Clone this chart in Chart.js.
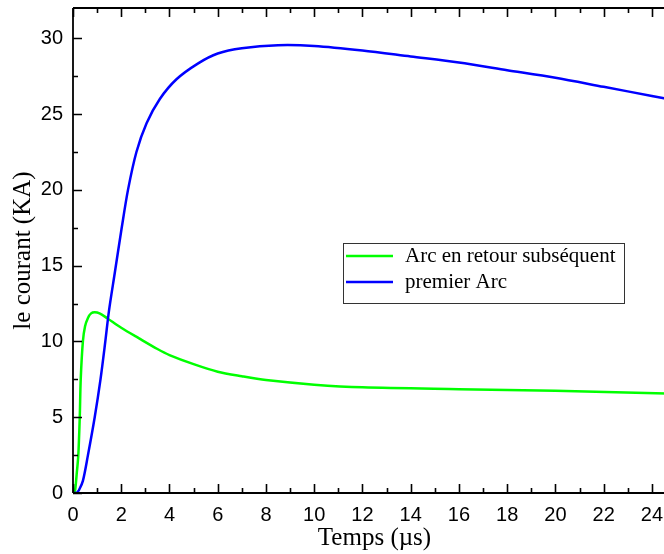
<!DOCTYPE html>
<html>
<head>
<meta charset="UTF-8">
<title>Courant de l'arc</title>
<script src="https://cdn.jsdelivr.net/npm/chart.js"></script>
<style>
	html, body { margin: 0; padding: 0; overflow: hidden; background: #fff; }
	#wrap { position: absolute; left: 0; top: 0; width: 680px; height: 554px; }
</style>
</head>
<body>
<div id="wrap">
	<canvas id="courbe" width="680" height="554"></canvas>
</div>
<script>
	// valeurs (temps en µs, courant en kA)
	const tempsSubsequent = [0, 0.07, 0.15, 0.22, 0.28, 0.32, 0.41, 0.5, 0.62, 0.75, 0.9, 1.1, 1.4, 2, 2.74, 3.5, 4, 5, 6, 7, 8, 10, 12, 16, 20, 25];
	const courantSubsequent = [0, 0, 1.2, 2.5, 5, 7.5, 10, 11.0, 11.55, 11.85, 11.92, 11.85, 11.55, 10.9, 10.2, 9.5, 9.1, 8.5, 8.0, 7.7, 7.45, 7.15, 6.97, 6.85, 6.75, 6.55];

	const tempsPremier = [0, 0.14, 0.25, 0.41, 0.62, 0.9, 1.14, 1.34, 1.49, 1.73, 2.01, 2.28, 2.63, 3.05, 3.6, 4.29, 5.19, 6, 7, 8.5, 10, 12, 14, 16, 18, 20, 22, 24, 25];
	const courantPremier = [0, 0, 0.2, 0.8, 2.5, 5, 7.5, 10, 12.0, 14.5, 17.4, 20.0, 22.5, 24.4, 26.0, 27.3, 28.35, 29.0, 29.35, 29.55, 29.5, 29.2, 28.8, 28.4, 27.9, 27.4, 26.8, 26.2, 25.9];

	const labelsSerie = ['Arc en retour subséquent', 'premier Arc'];
	const couleurs = ['#00ff00', '#0000ff'];

	function points(ts, vs){
		return ts.map(function(t, i){ return {x: t, y: vs[i]}; });
	}

	// ticks vers l'intérieur + cadre + légende dans le graphe
	const cadrePlugin = {
		id: 'cadre',
		afterDraw(chart){
			const ctx = chart.ctx;
			const a = chart.chartArea;
			const sx = chart.scales.x, sy = chart.scales.y;
			ctx.save();
			ctx.strokeStyle = '#000';
			ctx.lineWidth = 1.8;
			ctx.beginPath();
			ctx.moveTo(a.left, a.top); ctx.lineTo(a.right, a.top);
			ctx.moveTo(a.left, a.top); ctx.lineTo(a.left, a.bottom);
			ctx.moveTo(a.left, a.bottom); ctx.lineTo(a.right, a.bottom);
			ctx.stroke();

			ctx.lineWidth = 1.6;
			ctx.beginPath();
			sx.ticks.forEach(function(t){
				if (Math.abs(t.value - Math.round(t.value)) > 1e-6) return;
				const px = Math.round(sx.getPixelForValue(t.value)) + 0.5;
				const len = (Math.round(t.value) % 2 === 0) ? 9 : 5;
				ctx.moveTo(px, a.bottom); ctx.lineTo(px, a.bottom - len);
				ctx.moveTo(px, a.top); ctx.lineTo(px, a.top + len);
			});
			sy.ticks.forEach(function(t){
				const r = t.value / 2.5;
				if (Math.abs(r - Math.round(r)) > 1e-6) return;
				const py = Math.round(sy.getPixelForValue(t.value)) + 0.5;
				const len = (t.value % 5 === 0) ? 9 : 5;
				ctx.moveTo(a.left, py); ctx.lineTo(a.left + len, py);
			});
			ctx.stroke();

			// légende
			const bx = 343, by = 243, bw = 281, bh = 60;
			ctx.fillStyle = '#fff';
			ctx.fillRect(bx, by, bw, bh);
			ctx.strokeStyle = '#333';
			ctx.lineWidth = 1;
			ctx.strokeRect(bx + 0.5, by + 0.5, bw, bh);
			ctx.font = '21px "Liberation Serif", "Times New Roman", serif';
			ctx.textBaseline = 'middle';
			ctx.fillStyle = '#000';
			chart.data.datasets.forEach(function(ds, i){
				const y = by + 13 + i * 26;
				ctx.strokeStyle = ds.borderColor;
				ctx.lineWidth = 2.5;
				ctx.beginPath();
				ctx.moveTo(bx + 3, y); ctx.lineTo(bx + 50, y);
				ctx.stroke();
				ctx.fillText(ds.label, bx + 62, y);
			});
			ctx.restore();
		}
	};

	const ctx = document.getElementById('courbe').getContext('2d');
	new Chart(ctx, {
		type: 'line',
		data: {
			datasets: [
				{
					label: labelsSerie[0],
					data: points(tempsSubsequent, courantSubsequent),
					borderColor: couleurs[0],
					borderWidth: 2.5,
					pointRadius: 0,
					tension: 0.3,
					fill: false,
					order: 1
				},
				{
					label: labelsSerie[1],
					data: points(tempsPremier, courantPremier),
					borderColor: couleurs[1],
					borderWidth: 2.5,
					pointRadius: 0,
					tension: 0.3,
					fill: false,
					order: 0
				}
			]
		},
		options: {
			responsive: false,
			animation: false,
			events: [],
			layout: { padding: { top: 8, right: 4, left: 0, bottom: 0 } },
			plugins: {
				legend: { display: false },
				tooltip: { enabled: false }
			},
			scales: {
				x: {
					type: 'linear',
					min: 0,
					max: 25,
					grid: { display: false, drawTicks: false },
					border: { display: false },
					ticks: {
						stepSize: 1,
						autoSkip: false,
						maxRotation: 0,
						padding: 10,
						color: '#000',
						font: { family: '"Liberation Sans", Arial, sans-serif', size: 20 },
						callback: function(v){ return (v % 2 === 0) ? String(v) : ''; }
					},
					title: {
						display: true,
						text: 'Temps (\u00b5s)',
						color: '#000',
						font: { family: '"Liberation Serif", "Times New Roman", serif', size: 25 },
						padding: { top: 0, bottom: 1 }
					},
					afterFit: function(scale){
						scale.height = 61;
						scale.paddingLeft = 0;
						scale.paddingRight = 0;
					}
				},
				y: {
					min: 0,
					max: 32,
					grid: { display: false, drawTicks: false },
					border: { display: false },
					ticks: {
						stepSize: 2.5,
						autoSkip: false,
						padding: 10,
						color: '#000',
						font: { family: '"Liberation Sans", Arial, sans-serif', size: 20 },
						callback: function(v){ return (v % 5 === 0) ? String(v) : ''; }
					},
					title: {
						display: true,
						text: 'le courant (KA)',
						color: '#000',
						font: { family: '"Liberation Serif", "Times New Roman", serif', size: 25 },
						padding: { top: 8, bottom: 0 }
					},
					afterFit: function(scale){
						scale.width = 73;
						scale.paddingTop = 0;
						scale.paddingBottom = 0;
					}
				}
			}
		},
		plugins: [cadrePlugin]
	});
</script>
</body>
</html>
